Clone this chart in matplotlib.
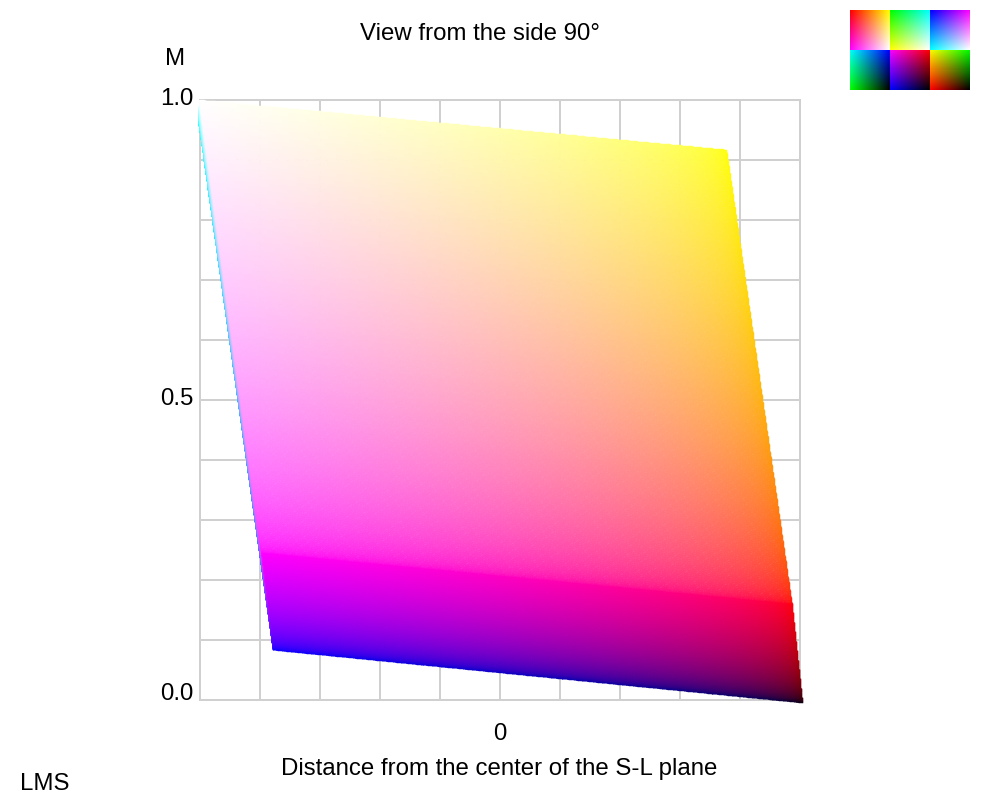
import numpy as np
import matplotlib
matplotlib.use("Agg")
import matplotlib.pyplot as plt

plt.rcParams['font.family'] = ['Liberation Sans', 'DejaVu Sans']

# Cube vertices as seen from the side: (distance from S-L centre, M)
vertices = {
    'white':   (-1.000, 1.000),
    'yellow':  (0.757, 0.917),
    'red':     (0.975, 0.160),
    'black':   (1.010, -0.005),
    'blue':    (-0.755, 0.083),
    'magenta': (-0.793, 0.245),
    'cyan':    (-1.005, 0.968),
}
colours = {
    'white': (1, 1, 1), 'yellow': (1, 1, 0), 'red': (1, 0, 0), 'black': (0, 0, 0),
    'blue': (0, 0, 1), 'magenta': (1, 0, 1), 'cyan': (0, 1, 1), 'green': (0, 1, 0),
}
# faces, back to front: top-left, top-right, bottom-right, bottom-left
faces = [
    ('cyan', 'white', 'magenta', 'blue'),
    ('white', 'yellow', 'red', 'magenta'),
    ('magenta', 'red', 'black', 'blue'),
]
# legend squares: top-left, top-right, bottom-left, bottom-right
swatches = [
    [('red', 'yellow', 'magenta', 'white'), ('green', 'cyan', 'yellow', 'white'), ('blue', 'magenta', 'cyan', 'white')],
    [('cyan', 'blue', 'green', 'black'), ('magenta', 'red', 'blue', 'black'), ('yellow', 'green', 'red', 'black')],
]
GAMMA = 1 / 2.2
x_ticks = np.arange(-1, 1.01, 0.2)
y_ticks = np.arange(0, 1.01, 0.1)
y_labels = {0.0: '0.0', 0.5: '0.5', 1.0: '1.0'}

fig = plt.figure(figsize=(10, 8), dpi=100, facecolor='white')
ax = fig.add_axes([0.2, 0.125, 0.6, 0.75])
ax.set_xlim(-1, 1)
ax.set_ylim(0, 1)
ax.set_xticks(x_ticks)
ax.set_yticks(y_ticks)
ax.grid(True, color='#d0d0d0', linewidth=1.44, clip_on=False)
ax.set_axisbelow(True)
ax.tick_params(length=0, labelbottom=False, labelleft=False)
for s in ax.spines.values():
    s.set_visible(False)


def blend(a, b, c, d, u, v):
    return ((1 - u) * (1 - v))[..., None] * a + (u * (1 - v))[..., None] * b \
        + ((1 - u) * v)[..., None] * d + (u * v)[..., None] * c


N = 240
for tl, tr, br, bl in faces:
    u, v = np.meshgrid(np.linspace(0, 1, N + 1), np.linspace(0, 1, N + 1))
    P = blend(*(np.array(vertices[k], float) for k in (tl, tr, br, bl)), u, v)
    um, vm = np.meshgrid((np.arange(N) + .5) / N, (np.arange(N) + .5) / N)
    C = blend(*(np.array(colours[k], float) for k in (tl, tr, br, bl)), um, vm)
    C = np.clip(C, 0, 1) ** GAMMA
    ax.pcolormesh(P[..., 0], P[..., 1], C, shading='flat', antialiased=True,
                  edgecolors='face', linewidth=0.3, clip_on=False, zorder=3)

# colour-face squares, top right
sw = 0.04
for r, row in enumerate(swatches):
    for c, (a, b, d, e) in enumerate(row):
        sx = fig.add_axes([0.85 + c * sw, 0.9875 - (r + 1) * 0.05, sw - 1e-4, 0.05])
        u, v = np.meshgrid(np.linspace(0, 1, 40), np.linspace(0, 1, 40))
        img = blend(*(np.array(colours[k], float) for k in (a, b, e, d)), u, v)
        sx.imshow(np.clip(img, 0, 1), aspect='auto', interpolation='nearest')
        sx.axis('off')

fs = 17.3
fig.text(480 / 1000, 1 - 34 / 800, 'View from the side 90°', ha='center', va='center', fontsize=fs)
fig.text(175 / 1000, 1 - 59 / 800, 'M', ha='center', va='center', fontsize=fs)
for val, py in zip(y_labels, (694, 399, 99)):
    fig.text(177 / 1000, 1 - py / 800, y_labels[val], ha='center', va='center', fontsize=fs)
fig.text(500 / 1000, 1 - 734 / 800, '0', ha='center', va='center', fontsize=fs)
fig.text(499 / 1000, 1 - 769 / 800, 'Distance from the center of the S-L plane', ha='center', va='center', fontsize=fs)
fig.text(45 / 1000, 1 - 784 / 800, 'LMS', ha='center', va='center', fontsize=fs)

fig.savefig('out.png', dpi=100)
